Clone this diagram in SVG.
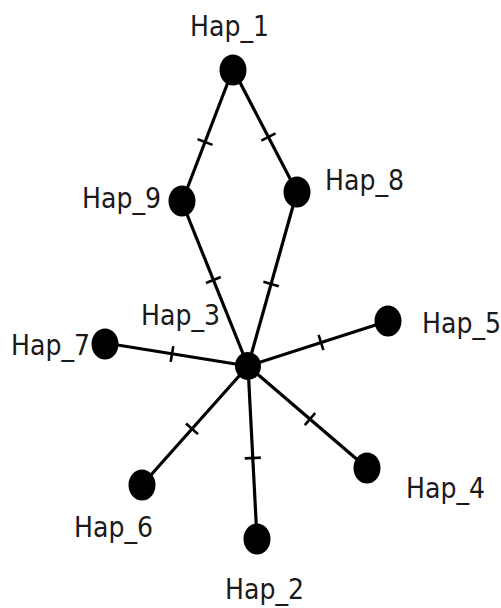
<svg xmlns="http://www.w3.org/2000/svg" width="501" height="608" viewBox="0 0 501 608">
<style>
.e{stroke:#000;stroke-width:3.2;fill:none}
.t{stroke:#000;stroke-width:2.6}
.n{fill:#000}
text{font-family:"DejaVu Sans Condensed","DejaVu Sans",sans-serif;font-stretch:condensed;font-size:28px;fill:#1a1a1a}
</style>
<rect width="501" height="608" fill="#fff"/>
<g id="connectors">
<line class="e" x1="233" y1="69" x2="182" y2="202"/>
<line class="e" x1="233" y1="69" x2="297" y2="192"/>
<line class="e" x1="182" y1="202" x2="248" y2="366"/>
<line class="e" x1="297" y1="192" x2="248" y2="366"/>
<line class="e" x1="105" y1="343" x2="248" y2="366"/>
<line class="e" x1="388" y1="321" x2="248" y2="366"/>
<line class="e" x1="142" y1="485" x2="248" y2="366"/>
<line class="e" x1="257" y1="539" x2="248" y2="366"/>
<line class="e" x1="367" y1="468" x2="248" y2="366"/>
<line class="t" x1="197.5" y1="139.1" x2="212.5" y2="144.9"/>
<line class="t" x1="275.5" y1="133.3" x2="261.3" y2="140.7"/>
<line class="t" x1="206" y1="283" x2="220.8" y2="277"/>
<line class="t" x1="263.4" y1="281.8" x2="278.8" y2="286.2"/>
<line class="t" x1="173.3" y1="346.1" x2="170.7" y2="361.9"/>
<line class="t" x1="318.6" y1="334.9" x2="323.4" y2="350.1"/>
<line class="t" x1="186" y1="423.5" x2="198" y2="434.1"/>
<line class="t" x1="244.8" y1="458.4" x2="260.8" y2="457.6"/>
<line class="t" x1="304.8" y1="425.2" x2="315.2" y2="413"/>
</g>
<g id="Hap_1"><ellipse class="n" cx="233" cy="70" rx="13.5" ry="15.5"/><text x="190" y="36">Hap_1</text></g>
<g id="Hap_9"><ellipse class="n" cx="182" cy="201" rx="13.5" ry="15.5"/><text x="82" y="208">Hap_9</text></g>
<g id="Hap_8"><ellipse class="n" cx="297" cy="192" rx="13.5" ry="15.5"/><text x="325" y="190">Hap_8</text></g>
<g id="Hap_3"><ellipse class="n" cx="248" cy="366" rx="13" ry="14"/><text x="141" y="325">Hap_3</text></g>
<g id="Hap_7"><ellipse class="n" cx="105" cy="344" rx="13.5" ry="15.5"/><text x="11" y="355">Hap_7</text></g>
<g id="Hap_5"><ellipse class="n" cx="388" cy="321" rx="13.5" ry="15.5"/><text x="422" y="333">Hap_5</text></g>
<g id="Hap_6"><ellipse class="n" cx="142" cy="485" rx="13.5" ry="15.5"/><text x="74" y="537">Hap_6</text></g>
<g id="Hap_2"><ellipse class="n" cx="257" cy="539" rx="13.5" ry="15.5"/><text x="225" y="599">Hap_2</text></g>
<g id="Hap_4"><ellipse class="n" cx="367" cy="468" rx="13.5" ry="15.5"/><text x="406" y="498">Hap_4</text></g>
</svg>
